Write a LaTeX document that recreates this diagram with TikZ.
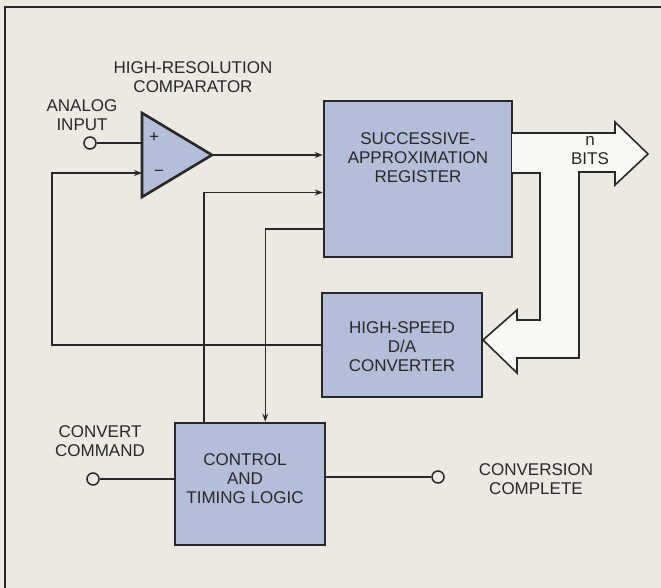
\documentclass[tikz,border=0pt]{standalone}
\usepackage{fontspec}
\setmainfont{Liberation Sans}
\usetikzlibrary{arrows.meta,calc}
\definecolor{bgc}{RGB}{236,233,226}
\definecolor{boxc}{RGB}{180,190,216}
\definecolor{busc}{RGB}{248,248,244}
\definecolor{inkc}{RGB}{40,40,40}
\begin{document}
\begin{tikzpicture}[x=1pt,y=-1pt,
  lbl/.style={font=\fontsize{17}{19}\selectfont, text=inkc, align=center, inner sep=0pt},
  blk/.style={draw=inkc, line width=2.6pt, fill=boxc, inner sep=0pt},
  wire/.style={draw=inkc, line width=1.5pt},
  arr/.style={wire, -{Stealth[length=8pt,width=6pt]}},
  term/.style={circle, draw=inkc, line width=1.5pt, minimum size=12pt, inner sep=0pt}]
  \fill[bgc] (0,0) rectangle (661,588);
  \useasboundingbox (0,0) rectangle (661,588);
  \draw[inkc, line width=1.5pt] (5,590) -- (5,7) -- (663,7);

  % blocks
  \node[blk, minimum width=188pt, minimum height=156pt] (sar) at (418,179) {};
  \node[lbl] at (418,158) {SUCCESSIVE-\\APPROXIMATION\\REGISTER};
  \node[blk, minimum width=160pt, minimum height=104pt] (dac) at (402,345) {};
  \node[lbl] at (402,347) {HIGH-SPEED\\D/A\\CONVERTER};
  \node[blk, minimum width=150pt, minimum height=122pt] (ctl) at (250,484) {};
  \node[lbl] at (245,479) {CONTROL\\AND\\TIMING LOGIC};

  % comparator
  \coordinate (ctop) at (142,113);
  \coordinate (cbot) at (142,197);
  \coordinate (cout) at (212,155);
  \coordinate (cinp) at (142,143);
  \coordinate (cinm) at (142,173);
  \draw[draw=inkc, line width=2.6pt, fill=boxc, line join=miter] (ctop) -- (cout) -- (cbot) -- cycle;
  \node[lbl] (plus) at (154,138) {+};
  \node[lbl] (minus) at (159,173) {\textminus};
  \node[lbl] (cmplbl) at (193,77) {HIGH-RESOLUTION\\COMPARATOR};

  % bus arrow
  \draw[draw=inkc, line width=1.6pt, fill=busc, line join=miter]
    (512,133) -- (615,133) -- (615,122) -- (648,154) -- (615,185) -- (615,172)
    -- (579,172) -- (579,358) -- (517,358) -- (517,373) -- (483,340) -- (517,310)
    -- (517,320) -- (540,320) -- (540,173) -- (512,173);
  \node[lbl] (bits) at (590,151) {n\\BITS};

  % terminals
  \node[term] (ain) at (90,143) {};
  \node[lbl] (ainlbl) at (82,115) {ANALOG\\INPUT};
  \node[term] (cc) at (93,479) {};
  \node[lbl] (cclbl) at (100,441) {CONVERT\\COMMAND};
  \node[term] (cp) at (438,477) {};
  \node[lbl] (cplbl) at (536,479) {CONVERSION\\COMPLETE};

  % connectors
  \coordinate (fbx) at (52,0);
  \draw[wire] (ain.east) -- (cinp);
  \draw[arr] (cout) -- (cout -| sar.west);
  \draw[arr] (dac.west) -- (dac.west -| fbx) |- (cinm);
  \draw[arr] ($(ctl.north west)!0.2!(ctl.north east)$) |- ($(sar.north west)!0.585!(sar.south west)$);
  \draw[arr] ($(sar.north west)!0.814!(sar.south west)$) -| ($(ctl.north west)!0.6!(ctl.north east)$);
  \draw[wire] (cc.east) -- (cc -| ctl.west);
  \draw[wire] (cp -| ctl.east) -- (cp.west);
\end{tikzpicture}
\end{document}
